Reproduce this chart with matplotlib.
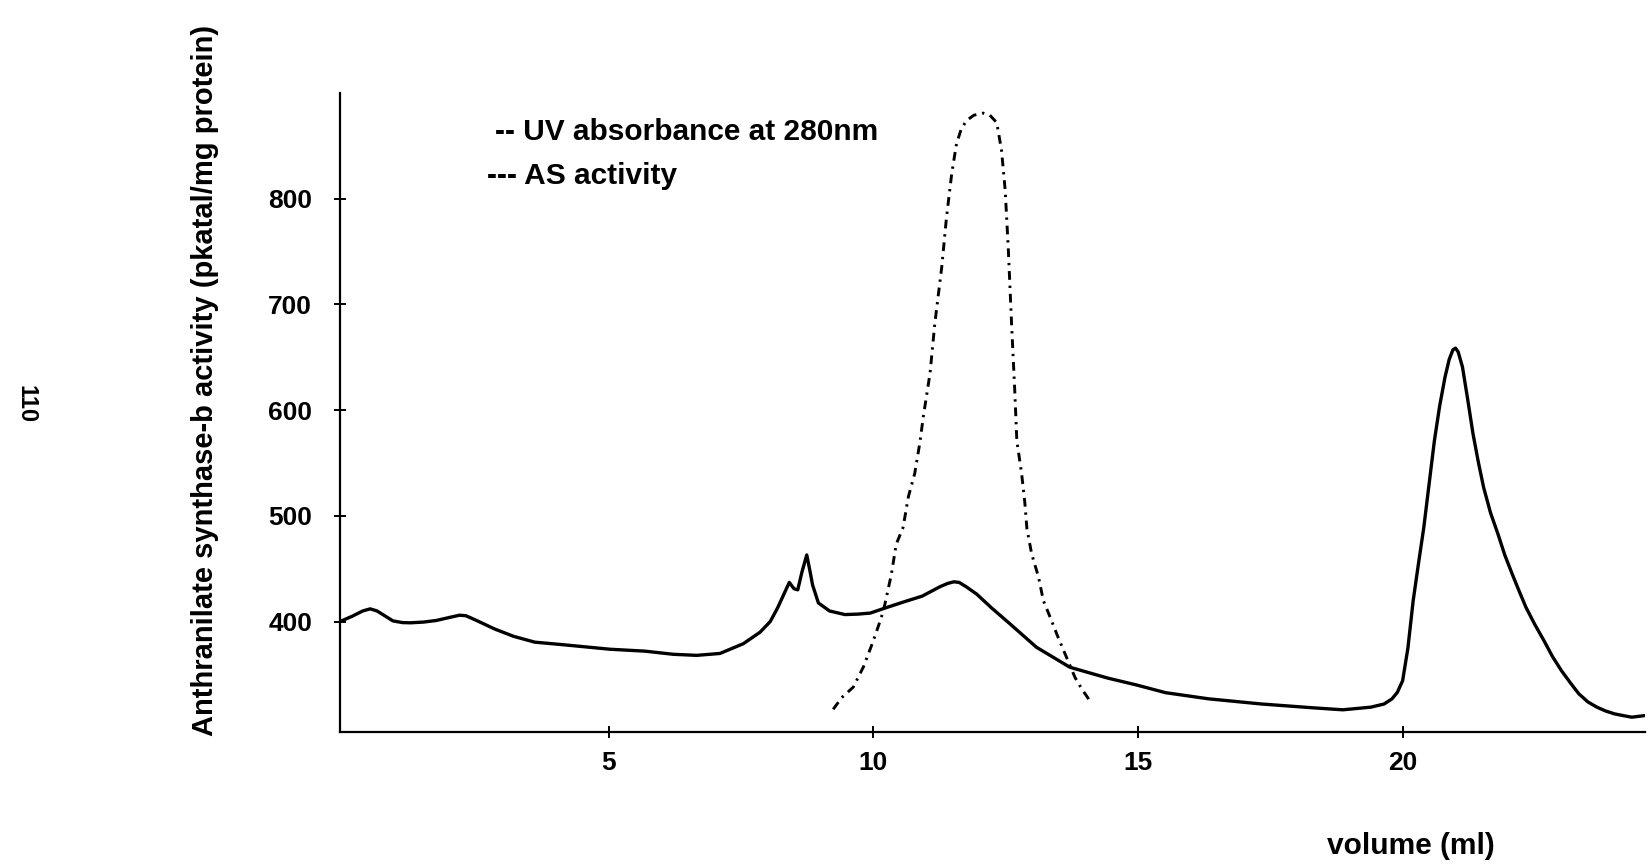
import matplotlib
matplotlib.use("Agg")
import matplotlib.pyplot as plt

plt.rcParams['font.family'] = ['Liberation Sans', 'DejaVu Sans']

# UV absorbance at 280nm (solid trace)
uv_volume = [-0.08, 0.15, 0.35, 0.49, 0.62, 0.78, 0.92, 1.1, 1.25, 1.5, 1.74, 2.0,
             2.18, 2.3, 2.5, 2.84, 3.2, 3.6, 4.15, 5.02, 5.68, 6.22, 6.66, 7.1,
             7.54, 7.86, 8.05, 8.19, 8.3, 8.41, 8.5, 8.57, 8.65, 8.74, 8.8, 8.85,
             8.96, 9.17, 9.46, 9.7, 9.94, 10.27, 10.6, 10.92, 11.26, 11.4, 11.52,
             11.62, 11.75, 11.95, 12.23, 12.58, 13.08, 13.71, 14.42, 14.97, 15.52,
             16.33, 17.33, 18.33, 18.87, 19.4, 19.65, 19.8, 19.9, 20.0, 20.1, 20.2,
             20.3, 20.4, 20.5, 20.6, 20.7, 20.8, 20.88, 20.95, 21.0, 21.05, 21.13,
             21.23, 21.33, 21.43, 21.53, 21.66, 21.8, 21.93, 22.07, 22.2, 22.33,
             22.5, 22.67, 22.83, 23.0, 23.17, 23.33, 23.5, 23.67, 23.83, 24.0,
             24.17, 24.33, 24.57]
uv_signal = [400, 405, 410, 412, 410, 405, 400.6, 399, 398.8, 399.5, 401, 404,
             406, 405.5, 401, 393, 386, 380.5, 378, 373.8, 372, 369, 368, 369.8,
             379, 390, 400, 413, 425, 437, 431, 430, 447, 463, 448, 434.6,
             417.6, 410, 406.6, 407, 408, 413.6, 419, 424, 433, 436, 437.6,
             437, 433, 426, 413, 397.8, 375.7, 356.8, 346.6, 340, 332.7,
             326.9, 322, 318.3, 316.5, 319, 322, 326.9, 333, 344, 375, 420,
             455, 489, 530, 571, 604, 631, 648, 657, 658.6, 655, 641,
             610, 577.6, 551, 527, 503, 483, 463, 445, 429, 413.5,
             397, 382, 367, 353.6, 342, 331.6, 324, 319, 315.5, 312.7,
             311, 309.5, 311]

# AS activity (dash-dot trace)
as_volume = [9.24, 9.40, 9.62, 9.81, 10.0, 10.15, 10.22, 10.34, 10.43, 10.56, 10.66,
             10.78, 10.88, 10.94, 11.07, 11.16, 11.29, 11.38, 11.48, 11.57, 11.66,
             11.76, 11.9, 12.07, 12.2, 12.33, 12.42, 12.49, 12.55, 12.61, 12.67,
             12.71, 12.80, 12.86, 12.90, 12.99, 13.12, 13.21, 13.34, 13.49, 13.65,
             13.81, 13.94, 14.09]
as_activity = [317, 328, 338, 357, 382, 404, 417, 445, 473, 489, 518,
               540, 570, 593, 635, 682, 735, 782, 824, 852, 866,
               874, 879, 881, 879, 872, 846, 808, 751, 682, 619,
               571, 540, 513, 488, 464, 442, 420, 404, 385, 366,
               347, 336, 325]

x_ticks = [5, 10, 15, 20]
y_ticks = [400, 500, 600, 700, 800]

W, H = 1651, 865
fig = plt.figure(figsize=(W / 100, H / 100), dpi=100)
ax = fig.add_axes([340 / W, 1 - 732 / H, (1645 - 340) / W, (732 - 93) / H])

ax.plot(uv_volume, uv_signal, color='black', lw=2.4,
        solid_capstyle='round', solid_joinstyle='round')
ax.plot(as_volume, as_activity, color='black', lw=2.1,
        linestyle=(0, (3, 2, 0.8, 2)))

ax.set_xlim(-0.08, 24.58)
ax.set_ylim(295.5, 900)
ax.set_xticks(x_ticks)
ax.set_yticks(y_ticks)

for side in ['top', 'right']:
    ax.spines[side].set_visible(False)
for side in ['left', 'bottom']:
    ax.spines[side].set_linewidth(1.6)

ax.tick_params(direction='inout', length=8, width=1.4, labelsize=19)
ax.tick_params(axis='x', pad=10)
ax.tick_params(axis='y', pad=16)
for lab in ax.get_xticklabels() + ax.get_yticklabels():
    lab.set_fontweight('bold')

# legend written as plain text, like the original
fig.text(495 / W, 1 - 132 / H, '-- UV absorbance at 280nm', fontsize=21.5,
         fontweight='bold', va='center', ha='left')
fig.text(487 / W, 1 - 176 / H, '--- AS activity', fontsize=21.5,
         fontweight='bold', va='center', ha='left')

fig.text(205 / W, 1 - 380 / H,
         'Anthranilate synthase-b activity (pkatal/mg protein)',
         fontsize=21, fontweight='bold', rotation=90, ha='center', va='center')
fig.text(1411 / W, 1 - 846 / H, 'volume (ml)', fontsize=21.5,
         fontweight='bold', ha='center', va='center')
fig.text(26 / W, 1 - 404 / H, '110', fontsize=17, fontweight='bold',
         rotation=270, ha='center', va='center')

fig.savefig('out.png', dpi=100)
